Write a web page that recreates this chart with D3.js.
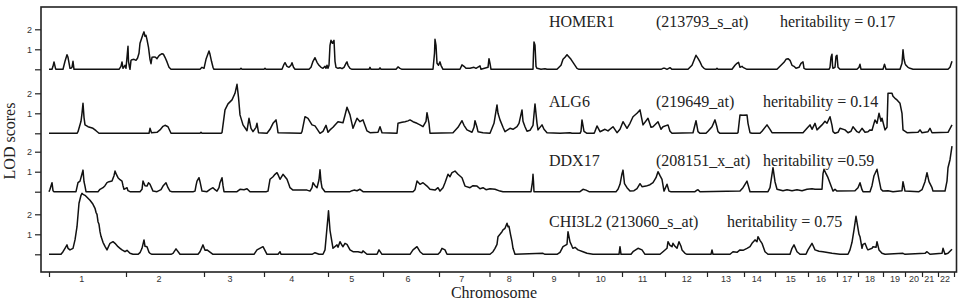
<!DOCTYPE html>
<html><head><meta charset="utf-8">
<script src="https://cdn.jsdelivr.net/npm/d3@7/dist/d3.min.js"></script>
<style>
html,body{margin:0;padding:0;background:#fff;}
svg{display:block;}
</style></head>
<body>
<svg id="chart" width="966" height="308"></svg>
<script>
// ---------------- DATA ----------------
const chromosomes = ["1","2","3","4","5","6","7","8","9","10","11","12","13","14","15","16","17","18","19","20","21","22"];
// cumulative genome map positions of chromosome boundaries (map units)
const chromBounds = [0,77,155,215,279,334,390,440.5,484,529.5,573,616,658,695,726,759,788,809,834,856,873,889,905];
// genome position of each chromosome tick label
const chromLabelPos = [32.7,110,181,242.7,302.7,359,412.7,460.3,505,551.7,593.7,637.7,677,707.7,741.7,772,798.3,821,846,865,880.3,896];
const lodTicks = [0,1,2];
const lodTickLabels = ["","1","2"];

const genes = ["HOMER1","ALG6","DDX17","CHI3L2"];
const probes = ["(213793_s_at)","(219649_at)","(208151_x_at)","(213060_s_at)"];
const heritLabels = ["heritability = 0.17","heritability = 0.14","heritability =0.59","heritability = 0.75"];

// LOD profiles: [genome position, LOD]
const homer1 = [[0,0],[3,0],[4,0.15],[5,0.37],[6.5,0.05],[7,0],[14,0],[16,0.4],[18,0.73],[19,0.6],[21,0.05],[22,0.05],[23,0.1],[24,0.4],[25,0],
[70,0],[72,0.15],[73,0.37],[74,0.05],[76,0.2],[77,0.05],[78,0.6],[79,1.15],[79.5,0.4],[80.5,0.1],[81,0],[82,0.45],[83,0.48],[85,0.5],[87,0.45],[88.5,0.55],[90,0.8],[91,1.3],[93,1.6],[94,1.75],[95,1.87],[96,1.65],[97,1.7],[98,1.48],[99.5,1.1],[101,0.5],[102,0.28],[103,0.6],[105,0.62],[106.5,0.6],[108,0.53],[109.5,0.65],[111,0.72],[113,0.78],[114.5,0.75],[116,0.6],[118,0.37],[120,0.1],[122,0],
[151,0],[153,0.1],[155,0.05],[157,0.5],[160,0.92],[161,0.75],[162.5,0.4],[164,0.1],[165,0],
[191,0],[192,0.05],[193,0],[215,0],[216,0.05],[217,0],
[233,0],[235,0.25],[236,0.33],[238,0.15],[240,0.1],[242,0.2],[243,0.33],[244.5,0.1],[246,0],
[260,0],[262,0.1],[264,0.4],[266,0.58],[268,0.35],[270,0.2],[272,0.1],[274,0.05],[276,0.15],[277,0.05],[278,0.2],[279,0.05],[280,0.2],[281,1.2],[282,1.45],[283.5,1.3],[285,1.45],[286,0.4],[287,0.1],[289,0.05],[291,0.08],[293,0.03],[295,0.1],[297,0.3],[298,0.37],[299,0.2],[301,0.05],[303,0],
[320,0],[321,0.1],[322,0],[330,0],[331,0.07],[332,0],[347,0],[349,0.12],[351,0.05],[353,0],
[384,0],[385.5,0.8],[386,1.5],[387,1.2],[388,0.3],[389.5,0.2],[391,0.37],[392,0.2],[394,0],
[411,0],[413,0.22],[415,0.15],[417,0.05],[421,0.05],[425,0.1],[427,0.05],[431,0.17],[432,0],[439,0.1],[440,0.53],[441,0.3],[442,0],
[484,0],[484.5,0.8],[485,1.37],[486,1.2],[487,0.15],[488,0.05],[492,0],[496,0.03],[498,0],
[508,0],[510,0.1],[512,0.2],[514,0.5],[516,0.6],[518,0.73],[520,0.62],[522,0.5],[524,0.35],[526,0.2],[528,0.05],[530,0],
[612,0],[614,0.05],[616,0.05],[618,0],[621,0.08],[623,0],
[639,0],[641,0.1],[643,0.2],[645,0.45],[647,0.7],[649,0.55],[651,0.37],[653,0.15],[655,0.05],[657,0],
[667,0],[668,0.05],[669,0],[683,0],[686,0.2],[688,0.3],[689.5,0.35],[691,0.1],[693,0.15],[694,0.1],[696,0.05],[698,0],
[728,0],[730,0.1],[732,0.2],[735,0.35],[737,0.5],[739,0.53],[741,0.45],[743,0.2],[745,0.15],[747,0.05],[750,0.1],[752,0.3],[754,0.37],[755,0.05],[757,0],
[780,0],[781,0.1],[782,0.6],[783,0.75],[783.5,0.2],[784,0.05],[786,0.1],[787,0.65],[788,0.7],[789,0.1],[791,0],
[808,0],[810,0.1],[811,0.25],[812,0],[834,0],[835.5,0.25],[837,0],
[851,0],[853,0.3],[854,0.98],[855,0.5],[856,0.3],[857,0.2],[859,0.1],[861,0.05],[864,0],[899,0],[901,0.1],[903,0.4]];

const alg6 = [[0,0],[28,0],[29,0.08],[32,0.6],[33,1.0],[34,1.5],[35,0.8],[36,0.42],[39,0.33],[44,0.25],[47,0.13],[50,0],
[100,0],[101,0.25],[102.5,0.03],[108,0.05],[111,0.17],[114,0.35],[116,0.4],[119,0.33],[122,0],
[151,0],[152,0.05],[153,0],[172,0],[173,0.03],[176,1.17],[179,1.47],[183,1.67],[186,2.0],[188,2.45],[189.5,1.8],[191,0.92],[194,0.42],[198,0.13],[200,0.75],[202,0.25],[204,0.08],[207,0.3],[208,0.5],[209.5,0.03],[218,0],[221,0.2],[224,0.5],[227,0.67],[228,0.4],[229,0.03],
[252,0],[253,0.08],[256,0.83],[259,0.75],[263,0.42],[266,0.37],[269,0.15],[271,0],[274,0.1],[277,0.4],[279,0.05],[281,0.17],[284,0.3],[286,0.42],[289,0.58],[294,0.53],[296,0.9],[298,1.3],[301,0.92],[304,0.25],[306,0.5],[308,0.75],[311,0.58],[314,0.67],[318,0.12],[321,0.03],[329,0.05],[331,0.33],[333,0.03],
[348,0],[349,0.5],[353,0.55],[356,0.58],[359,0.62],[361,0.67],[364,0.58],[368,0.5],[371,0.42],[374,0.33],[377,0.6],[378,1.03],[380,0.5],[381,0],
[404,0.03],[409,0.3],[413,0.63],[415,0.4],[418,0.17],[423,0.05],[425,0.3],[426,0.63],[428,0.3],[429,0.08],[434,0.03],[441,0],[445,0.5],[448,1.42],[449,1.0],[451,0.67],[454,0.3],[456,0.08],[461,0.25],[464,0.2],[468,0.33],[470,0.5],[473,1.17],[474,0.6],[476,0.33],[478,0.1],[481,0.15],[484,0.4],[486,1.47],[488,0.5],[489,0.17],[493,0.42],[495,0.2],[498,0.03],
[511,0],[521,0.03],[523,0],[531,0],[532,0.1],[533,0.67],[535,0.1],[538,0],[545,0],[546,0.1],[548,0.37],[551,0.08],[556,0.2],[559,0.12],[564,0.33],[568,0.03],[571,0.2],[574,0.58],[578,0.25],[581,0.5],[584,0.83],[588,1.0],[591,1.17],[594,0.42],[599,0.75],[602,0.3],[604,0.33],[609,0.58],[612,0.2],[614,0.33],[619,0.42],[621,0.1],[623,0],
[644,0.03],[647,0.63],[649,0.08],[651,0],[657,0],[659,0.1],[663,0.33],[666,0.67],[668,0.3],[669,0.08],[671,0],[688,0],[689,0.03],[691,0.92],[694,0.9],[698,0.92],[699,0.5],[701,0.03],[703,0],[711,0],[713,0.1],[718,0.42],[721,0.2],[723,0.03],
[754,0.03],[758,0.25],[761,0.42],[763,0.2],[766,0.5],[768,0.17],[773,0.42],[776,0.6],[778,0.5],[781,0.83],[783,0.4],[784,0.08],[786,0],[789,0.05],[791,0.25],[796,0.17],[799,0.03],[802,0.1],[804,0.33],[808,0.08],[810,0.03],[813,0.25],[816,0.05],[819,0.08],[821,0.17],[823,0.15],[826,0.67],[828,0.5],[830,1.0],[832,0.6],[833,0.75],[836,0.17],[838,0.3],[839,2.0],[843,2.0],[844,1.85],[846,1.75],[848,1.67],[851,1.5],[853,1.0],[854,0.17],[858,0.03],
[869,0.05],[871,0.17],[873,0.03],[879,0.08],[881,0.25],[883,0.03],[899,0.05],[903,0.42]];

const ddx17 = [[0,0],[1,0.12],[3,0.45],[4,0.05],[5,0],[27,0],[29,0.45],[31,0.53],[32.5,0.8],[34,1.08],[35,0.5],[36,0.28],[37,0],[49,0],[51,0.12],[54,0.2],[56,0.3],[58,0.45],[60,0.5],[63,0.53],[65,0.8],[66,1.03],[67.5,0.85],[69,0.7],[71,0.6],[73,0.53],[74,0.3],[75,0.12],[78,0.2],[79,0.05],[81,0],
[91,0],[93,0.12],[94,0.53],[96,0.3],[98,0.28],[99.5,0.45],[101,0.37],[104,0.03],[108,0],[112,0.1],[114,0.28],[117,0.45],[119,0.2],[121,0.03],[123,0],
[144,0],[146,0.03],[147,0.3],[148,0.53],[150,0.7],[151,0.5],[153,0.03],[158,0],[161,0.12],[164,0.2],[166,0.1],[168,0.03],[170,0.2],[171,0.45],[173,0.7],[174,0.3],[175,0],
[188,0],[191,0.12],[195,0.1],[198,0.15],[201,0],
[217,0],[219,0.03],[221,0.62],[224,0.75],[226,0.87],[228,0.95],[229.5,0.8],[231,0.62],[234,0.87],[236,0.75],[238,0.62],[240,0.35],[241,0.2],[244,0.08],[251,0.08],[258,0.08],[261,0.03],[263,0.2],[264,0.45],[266,0.3],[268,0.2],[270,0.6],[271,1.1],[272,0.5],[273,0.2],[276,0],
[301,0],[303,0.05],[305,0.08],[308,0.05],[311,0.12],[314,0],
[364,0],[366,0.1],[368,0.53],[371,0.37],[374,0.45],[378,0.28],[381,0.12],[386,0.08],[389,0.2],[391,0.03],[394,0.2],[396,0.45],[399,0.87],[401,0.75],[403,0.95],[406,1.03],[409,0.87],[413,0.7],[416,0.28],[421,0.2],[424,0.3],[428,0.28],[431,0.15],[434,0.2],[437,0.1],[441,0.15],[446,0.12],[451,0.03],[454,0],
[482,0],[483.5,0.5],[484,0.87],[484.5,0.5],[485,0],[531,0],[534,0.12],[537,0.08],[540,0],
[567,0],[569,0.12],[571,0.37],[573,0.9],[574,1.08],[575.5,0.4],[578,0.2],[581,0.03],[585,0.05],[588,0.15],[591,0.4],[593,0.25],[597,0.28],[601,0.35],[604,0.45],[607,0.7],[609,1.0],[611,0.8],[613,0.62],[615,0.03],[618,0.37],[620,0.03],[622,0],
[646,0],[648,0.08],[649,0.1],[651,0],[691,0.03],[694,0.2],[698,0.53],[701,0],[719,0],[721,0.2],[724,1.2],[726,0.5],[728,0.12],[734,0.05],[738,0.1],[743,0.05],[748,0.1],[753,0.05],[758,0.12],[763,0.15],[766,0.12],[773,0.12],[774,0.9],[775,1.12],[777,0.9],[779,0.7],[782,0.3],[784,0.03],[786,0.12],[788,0.03],
[806,0.05],[809,0.2],[811,0.45],[813,0.1],[814,0],[821,0],[823,0.3],[825,0.8],[828,1.12],[830,0.6],[832,0.12],[834,0.03],[839,0.05],[844,0],[853,0.05],[854,0.5],[856,0.03],[870,0],[873,0.1],[876,0.5],[878,0.95],[880,0.5],[883,0.2],[884,0.03],[896,0.03],[898,0.53],[899,1.2],[901,1.6],[903,2.28]];

const chi3l2 = [[0,0],[12,0],[14,0.13],[16,0.3],[18,0.47],[19,0.3],[21,0.22],[24,0.3],[26,0.72],[28,1.38],[30,2.55],[32,2.95],[33,3.05],[34,3.0],[36,2.95],[38,2.85],[41,2.7],[44,2.5],[46,2.3],[47,2.1],[48,2.0],[49,1.63],[50,1.5],[51,1.13],[52,0.9],[54,0.6],[56,0.4],[58,0.22],[61,0.55],[64,0.63],[66,0.55],[69,0.38],[71,0.3],[73,0.22],[76,0.13],[78,0.2],[81,0.05],[84,0],
[89,0],[91,0.08],[93,0.3],[95,0.72],[96,0.4],[98,0.38],[100,0.1],[101,0.05],[103,0],[122,0],[124,0.05],[127,0.27],[131,0],[149,0],[151,0.13],[154,0.47],[156,0.2],[158,0.22],[164,0],[205,0],[208,0.22],[214,0.38],[218,0],[229,0],[231,0.13],[232,0],[263,0],[266,0.08],[270,0],[274,0],[276,0.22],[279,1.88],[279.5,2.18],[281,1.2],[284,0.3],[288,0.47],[289,0.35],[291,0.63],[293,0.45],[294,0.38],[296,0.55],[298,0.5],[301,0.22],[304,0.13],[309,0.13],[313,0.08],[314,0.17],[318,0],
[328,0],[330,0.22],[333,0],[361,0],[364,0.22],[368,0.38],[371,0.13],[374,0],[389,0],[391,0.1],[393,0.3],[396,0.22],[398,0],
[441,0],[444,0.13],[446,0.3],[448,0.5],[449,0.88],[451,1.0],[453,1.13],[454,1.22],[456,1.3],[458,1.55],[459,1.38],[460,1.4],[461.5,1.0],[463,0.63],[464,0.3],[466,0],[494,0.05],[496,0],
[508,0],[511,0.1],[514,0.38],[518,0.5],[519,1.13],[521,0.62],[523,0.4],[524,0.3],[526,0.35],[529,0.22],[534,0.13],[538,0.05],[544,0],[570,0],[571,0.38],[572,0],[582,0],[584,0.13],[589,0.3],[593,0.22],[596,0],
[611,0],[614,0.13],[618,0.3],[619,0.63],[621,0.45],[623,0.38],[624,0.55],[626,0.4],[628,0.3],[630,0.63],[632,0.4],[633,0.22],[636,0.05],[638,0],[662,0],[663,0.22],[664,0],
[681,0],[684,0.13],[688,0.1],[691,0.22],[694,0.2],[698,0.3],[701,0.38],[703,0.55],[706,0.72],[708,0.63],[709,0.88],[711,0.7],[713,0.55],[716,0.13],[719,0],
[741,0],[743,0.3],[745,0.47],[748,0.13],[751,0],[757,0],[759,0.22],[763,0.55],[766,0.22],[770,0.15],[774,0.13],[783,0.05],[791,0],
[799,0],[801,0.22],[803,0.6],[805,1.22],[807,1.9],[808,1.6],[810,1.0],[811,0.88],[813,0.3],[814,0.5],[816,0.55],[818,0.3],[819,0.22],[823,0.3],[824,0.38],[827,0.35],[828,0.63],[830,0.22],[833,0.05],[836,0],
[854,0.05],[856,0],[876,0.05],[878,0.13],[881,0],[893,0.05],[894,0.3],[896,0],[899,0.05],[903,0.25]];

const series = [homer1, alg6, ddx17, chi3l2];

// ---------------- LAYOUT ----------------
const svg = d3.select("#chart");
const frame = {left:41, right:956.5, top:7, bottom:272};
const panelBase = [69.3, 133.3, 191.7, 254.3];   // pixel y of LOD 0 for each panel
const pxPerLod = 20;
const labelY = [27, 107, 166, 226.5];
const geneX = [549, 549, 549, 549];
const probeX = [656, 656, 656, 606];
const heritX = [780, 763, 763, 727];

const x = d3.scaleLinear().domain([0, 905]).range([49, 954]);
const yScales = panelBase.map(b => d3.scaleLinear().domain([0, 1]).range([b, b - pxPerLod]));

const serif = "'Liberation Serif','Times New Roman',Times,serif";
const sans = "'Liberation Sans',Arial,Helvetica,sans-serif";

// frame
svg.append("rect")
  .attr("x", frame.left).attr("y", frame.top)
  .attr("width", frame.right - frame.left).attr("height", frame.bottom - frame.top)
  .attr("fill", "none").attr("stroke", "#222").attr("stroke-width", 1.6);

// y axes per panel
yScales.forEach((ys, i) => {
  const ax = d3.axisLeft(ys).tickValues(lodTicks).tickSize(6).tickPadding(3)
    .tickFormat((d, j) => lodTickLabels[j]);
  const g = svg.append("g").attr("transform", `translate(${frame.left},0)`).call(ax);
  g.select(".domain").remove();
  g.selectAll(".tick line").attr("stroke", "#222").attr("stroke-width", 1.2);
  g.selectAll(".tick text").attr("font-family", sans).attr("font-size", 9).attr("fill", "#333");
});

// x axis: chromosome boundaries as ticks
const xAx = d3.axisBottom(x).tickValues(chromBounds).tickSize(5).tickFormat("");
const gx = svg.append("g").attr("transform", `translate(0,${frame.bottom})`).call(xAx);
gx.select(".domain").remove();
gx.selectAll(".tick line").attr("stroke", "#222").attr("stroke-width", 1.2);

svg.append("g").selectAll("text").data(chromosomes).join("text")
  .attr("x", (d, i) => x(chromLabelPos[i]))
  .attr("y", 282)
  .attr("text-anchor", "middle")
  .attr("font-family", sans).attr("font-size", 9).attr("fill", "#333")
  .text(d => d);

// curves
series.forEach((s, i) => {
  const line = d3.line().x(d => x(d[0])).y(d => yScales[i](d[1]));
  svg.append("path").datum(s)
    .attr("d", line)
    .attr("fill", "none").attr("stroke", "#111")
    .attr("stroke-width", 1.5).attr("stroke-linejoin", "round");
});

// panel labels
genes.forEach((g, i) => {
  svg.append("text").attr("x", geneX[i]).attr("y", labelY[i])
    .attr("font-family", serif).attr("font-size", 16).attr("fill", "#222").text(g);
  svg.append("text").attr("x", probeX[i]).attr("y", labelY[i])
    .attr("font-family", serif).attr("font-size", 16).attr("fill", "#222").text(probes[i]);
  svg.append("text").attr("x", heritX[i]).attr("y", labelY[i])
    .attr("font-family", serif).attr("font-size", 16).attr("fill", "#222").text(heritLabels[i]);
});

// axis titles
svg.append("text").attr("x", 494).attr("y", 298).attr("text-anchor", "middle")
  .attr("font-family", serif).attr("font-size", 16).attr("fill", "#222").text("Chromosome");
svg.append("text").attr("transform", "translate(14.5,141) rotate(-90)")
  .attr("text-anchor", "middle")
  .attr("font-family", serif).attr("font-size", 16).attr("fill", "#222").text("LOD scores");
</script>
</body></html>
